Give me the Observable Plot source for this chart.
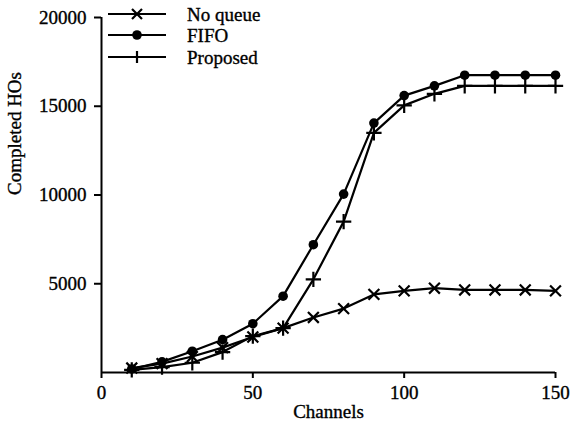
<!DOCTYPE html>
<html>
<head>
<meta charset="utf-8">
<script src="https://cdn.jsdelivr.net/npm/d3@7"></script>
<script src="https://cdn.jsdelivr.net/npm/@observablehq/plot@0.6"></script>
<style>
  html, body { margin: 0; padding: 0; background: #fff; }
  #wrap { position: relative; width: 573px; height: 428px; font-family: "Liberation Serif", "Times New Roman", serif; }
  #wrap text { stroke: black; stroke-width: 0.35px; }
</style>
</head>
<body>
<div id="wrap"></div>
<script>
const channels = [10, 20, 30, 40, 50, 60, 70, 80, 90, 100, 110, 120, 130, 140, 150];
const noQueue  = [250, 500, 900, 1400, 2000, 2500, 3100, 3600, 4400, 4600, 4750, 4650, 4650, 4650, 4600];
const fifo     = [200, 600, 1200, 1850, 2750, 4300, 7200, 10050, 14050, 15600, 16150, 16750, 16750, 16750, 16750];
const proposed = [150, 300, 550, 1150, 2050, 2500, 5250, 8500, 13500, 15050, 15700, 16150, 16150, 16150, 16150];
const seriesNames = ["No queue", "FIFO", "Proposed"];
const xTicks = [0, 50, 100, 150];
const yTicks = [5000, 10000, 15000, 20000];

const seriesValues = [noQueue, fifo, proposed];
const data = seriesNames.flatMap((s, i) => channels.map((c, j) => ({series: s, x: c, y: seriesValues[i][j]})));
const bySeries = s => data.filter(d => d.series === s);

const font = "Liberation Serif, Times New Roman, serif";
const fs = 19;

const plot = Plot.plot({
  width: 573,
  height: 428,
  marginLeft: 101,
  marginRight: 18,
  marginTop: 17,
  marginBottom: 56,
  style: { fontFamily: font, fontSize: fs + "px", color: "black", background: "white" },
  x: { domain: [0, 150] },
  y: { domain: [0, 20000] },
  marks: [
    Plot.axisY({ ticks: yTicks, tickFormat: d3.format("d"), tickSize: 7, tickPadding: 8, label: null, strokeWidth: 2, fontSize: fs, fill: "black" }),
    Plot.axisX({ ticks: xTicks, tickFormat: d3.format("d"), tickSize: 6, tickPadding: 7, label: null, strokeWidth: 2, fontSize: fs, fill: "black" }),
    Plot.ruleX([0], { stroke: "black", strokeWidth: 2 }),
    Plot.ruleY([0], { stroke: "black", strokeWidth: 2 }),
    Plot.text(["Completed HOs"], { frameAnchor: "left", dx: -87, rotate: -90, fontSize: fs, fill: "black" }),
    Plot.text(["Channels"], { frameAnchor: "bottom", dy: 45, fontSize: fs, fill: "black" }),
    Plot.line(data, { x: "x", y: "y", z: "series", stroke: "black", strokeWidth: 2.2 }),
    Plot.dot(bySeries("No queue"), { x: "x", y: "y", symbol: "times", r: 5, stroke: "black", strokeWidth: 2.2 }),
    Plot.dot(bySeries("FIFO"), { x: "x", y: "y", symbol: "circle", r: 4.8, fill: "black", stroke: "none" }),
    Plot.dot(bySeries("Proposed"), { x: "x", y: "y", symbol: "plus", r: 5, stroke: "black", strokeWidth: 2.2 })
  ]
});

const wrap = document.getElementById("wrap");
wrap.appendChild(plot);

// Legend overlay
const symbols = ["times", "circle", "plus"];
const leg = d3.create("svg").attr("id", "legend").attr("width", 300).attr("height", 70)
  .style("position", "absolute").style("left", "0px").style("top", "0px");
const rowY = [14, 35, 57];
seriesNames.forEach((name, i) => {
  const g = leg.append("g").attr("transform", `translate(0,${rowY[i]})`);
  g.append("line").attr("x1", 108).attr("x2", 166).attr("y1", 0).attr("y2", 0)
    .attr("stroke", "black").attr("stroke-width", 2.2);
  const sym = symbols[i];
  if (sym === "circle") {
    g.append("circle").attr("cx", 137).attr("cy", 0).attr("r", 4.8).attr("fill", "black");
  } else if (sym === "times") {
    g.append("path").attr("d", "M132,-5L142,5M132,5L142,-5").attr("stroke", "black").attr("stroke-width", 2.2);
  } else {
    g.append("path").attr("d", "M137,-6L137,6").attr("stroke", "black").attr("stroke-width", 2.2);
  }
  g.append("text").attr("x", 187).attr("y", 0).attr("dy", "0.35em")
    .attr("font-family", font).attr("font-size", fs).attr("fill", "black").text(name);
});
wrap.appendChild(leg.node());
</script>
</body>
</html>
